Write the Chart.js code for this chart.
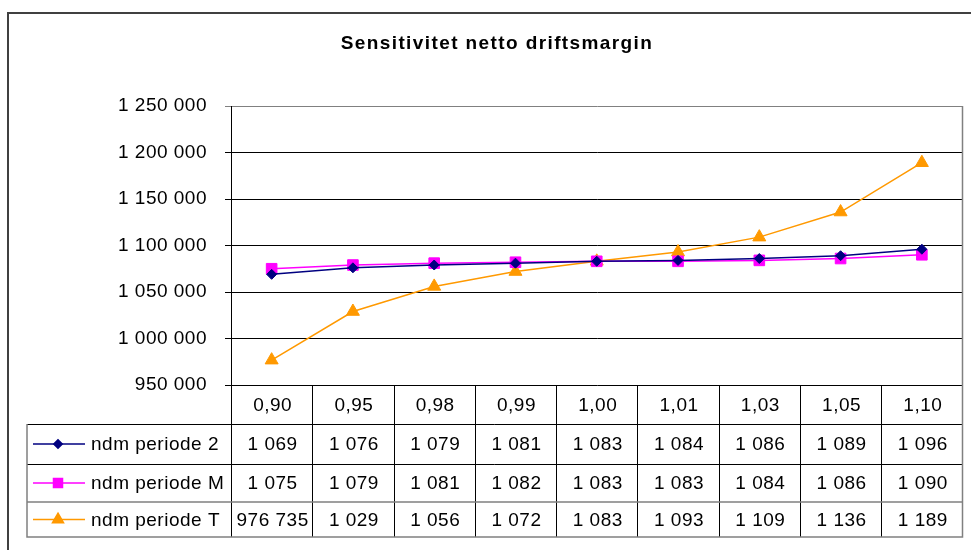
<!DOCTYPE html>
<html><head><meta charset="utf-8">
<script src="https://cdn.jsdelivr.net/npm/chart.js@4/dist/chart.umd.min.js"></script>
<style>html,body{margin:0;padding:0;background:#fff}canvas{display:block}</style>
</head><body>
<canvas id="c" width="971" height="550"></canvas>
<script>
const chartTitle = 'Sensitivitet netto driftsmargin';
const categories = ['0,90','0,95','0,98','0,99','1,00','1,01','1,03','1,05','1,10'];
const seriesNames = ['ndm periode 2','ndm periode M','ndm periode T'];
const ndmPeriode2 = [1069000,1076000,1079000,1081000,1083000,1084000,1086000,1089000,1096000];
const ndmPeriodeM = [1075000,1079000,1081000,1082000,1083000,1083000,1084000,1086000,1090000];
const ndmPeriodeT = [976735,1029000,1056000,1072000,1083000,1093000,1109000,1136000,1189000];
const yMin = 950000, yMax = 1250000, yStep = 50000;

const FONT = '"Liberation Sans", Arial, sans-serif';
const fmt = v => String(Math.round(v)).replace(/\B(?=(\d{3})+(?!\d))/g, ' ');
const cellText = v => v >= 1000000 ? fmt(v / 1000) : fmt(v);

const styles = [
  {color:'#000080', point:'rectRot', r:5},
  {color:'#FF00FF', point:'rect', r:7.5},
  {color:'#FF9900', point:'triangle', r:7.5}
];
const seriesData = [ndmPeriode2, ndmPeriodeM, ndmPeriodeT];

const tablePlugin = {
  id: 'tablePlugin',
  beforeDraw(chart) {
    chart.ctx.letterSpacing = '0.5px';
  },
  afterDraw(chart) {
    const ctx = chart.ctx;
    const ca = chart.chartArea;
    const xs = chart.scales.x;
    ctx.save();
    // outer frame
    ctx.strokeStyle = '#404040';
    ctx.lineWidth = 2;
    ctx.beginPath();
    ctx.moveTo(8, 551); ctx.lineTo(8, 13); ctx.lineTo(972, 13);
    ctx.stroke();
    // title
    ctx.fillStyle = '#000';
    ctx.font = 'bold 19px ' + FONT;
    ctx.letterSpacing = '1.4px';
    ctx.textAlign = 'center';
    ctx.textBaseline = 'middle';
    ctx.fillText(chartTitle, 497, 44);
    // right plot border
    ctx.strokeStyle = '#808080';
    ctx.lineWidth = 1.5;
    ctx.beginPath();
    ctx.moveTo(ca.right, ca.top); ctx.lineTo(ca.right, ca.bottom);
    ctx.stroke();

    // table
    const n = categories.length;
    const colW = (ca.right - ca.left) / n;
    const rowsY = [ca.bottom, 424, 464, 502, 537];
    const legL = 27;
    ctx.strokeStyle = '#000';
    ctx.lineWidth = 1;
    ctx.beginPath();
    for (let i = 0; i < n; i++) {
      const xl = Math.round(xs.getPixelForValue(i) - colW / 2) + 0.5;
      ctx.moveTo(xl, rowsY[0]); ctx.lineTo(xl, rowsY[4]);
    }
    ctx.moveTo(legL, rowsY[1] + 0.5); ctx.lineTo(ca.right, rowsY[1] + 0.5);
    ctx.moveTo(legL, rowsY[2] + 0.5); ctx.lineTo(ca.right, rowsY[2] + 0.5);
    ctx.stroke();
    ctx.strokeStyle = '#808080';
    ctx.lineWidth = 1.5;
    ctx.beginPath();
    ctx.moveTo(legL, rowsY[3]); ctx.lineTo(ca.right, rowsY[3]);
    ctx.moveTo(legL, rowsY[1]); ctx.lineTo(legL, rowsY[4]); ctx.lineTo(ca.right, rowsY[4]);
    ctx.lineTo(ca.right, rowsY[0]);
    ctx.stroke();

    ctx.font = '19px ' + FONT;
    ctx.letterSpacing = '0.5px';
    ctx.fillStyle = '#000';
    ctx.textBaseline = 'middle';
    ctx.textAlign = 'center';
    for (let i = 0; i < n; i++) {
      const cx = xs.getPixelForValue(i);
      ctx.fillText(categories[i], cx + 1, (rowsY[0] + rowsY[1]) / 2 + 1);
      for (let s = 0; s < 3; s++) {
        ctx.fillText(cellText(seriesData[s][i]), cx + 1, (rowsY[s + 1] + rowsY[s + 2]) / 2 + 1);
      }
    }
    // legend
    for (let s = 0; s < 3; s++) {
      const y = (rowsY[s + 1] + rowsY[s + 2]) / 2;
      const st = styles[s];
      ctx.strokeStyle = st.color;
      ctx.lineWidth = 1.5;
      ctx.beginPath(); ctx.moveTo(33, y); ctx.lineTo(85, y); ctx.stroke();
      ctx.fillStyle = st.color;
      Chart.helpers.drawPoint(ctx, {pointStyle: st.point, radius: st.r * 0.85, rotation: 0, borderWidth: 1}, 58, y);
      ctx.fill();
      ctx.fillStyle = '#000';
      ctx.textAlign = 'left';
      ctx.fillText(seriesNames[s], 91, y + 1);
    }
    ctx.restore();
  }
};

new Chart(document.getElementById('c'), {
  type: 'line',
  data: {
    labels: categories,
    datasets: seriesData.map((d, s) => ({
      label: seriesNames[s],
      data: d,
      borderColor: styles[s].color,
      backgroundColor: styles[s].color,
      borderWidth: 1.5,
      pointStyle: styles[s].point,
      pointRadius: styles[s].r,
      pointBorderWidth: 1,
      tension: 0
    }))
  },
  options: {
    responsive: false,
    animation: false,
    devicePixelRatio: 1,
    layout: {padding: {top: 106, bottom: 165, right: 6, left: 0}},
    plugins: {legend: {display: false}, title: {display: false}, tooltip: {enabled: false}},
    scales: {
      x: {display: false, offset: true},
      y: {
        min: yMin, max: yMax,
        afterFit(scale) { scale.width = 231; },
        ticks: {stepSize: yStep, padding: 18, color: '#000',
          font: {family: FONT, size: 19},
          callback: v => fmt(v)},
        grid: {color: ctx => (ctx.tick && ctx.tick.value === yMax) ? '#808080' : '#000',
          lineWidth: 1, tickLength: 6, drawTicks: true},
        border: {color: '#000', width: 1}
      }
    }
  },
  plugins: [tablePlugin]
});
</script>
</body></html>
